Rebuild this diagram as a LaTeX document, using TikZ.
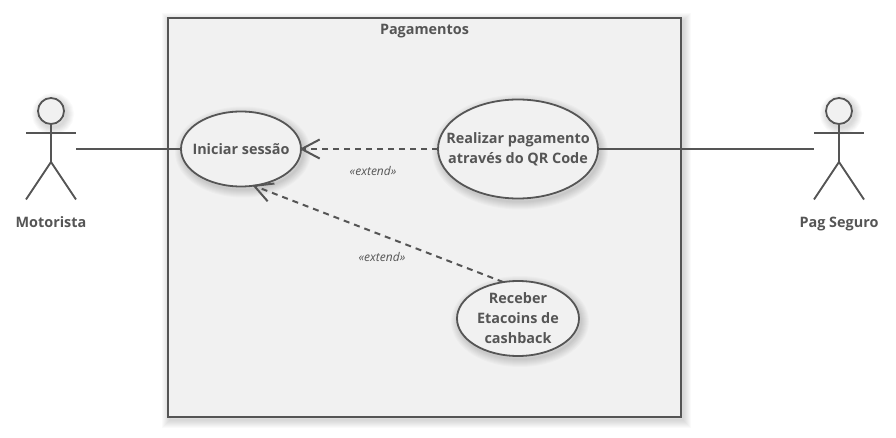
\documentclass[tikz,border=0pt]{standalone}
\usepackage{fontspec}
\setmainfont{Open Sans}
\usetikzlibrary{positioning,arrows.meta,shapes.geometric}
\definecolor{umlgray}{HTML}{555555}
\definecolor{umlfill}{HTML}{F1F1F1}

\begin{document}
\begin{tikzpicture}[
    x=1pt, y=-1pt,
    shadowlayer/.style={preaction={draw=black, draw opacity=.02, line width=#1,
      transform canvas={shift={(2pt,-3pt)}}}},
    softshadow/.style={shadowlayer=16pt, shadowlayer=14pt, shadowlayer=12pt, shadowlayer=10pt,
      shadowlayer=8pt, shadowlayer=6pt, shadowlayer=4pt, shadowlayer=2pt},
    frame/.style={ draw=umlgray,
      line width=2.2pt,
      fill=umlfill,
      softshadow,
      inner sep=0pt},
    usecase/.style={ ellipse,
      draw=umlgray,
      line width=1.8pt,
      fill=umlfill,
      softshadow,
      inner sep=0pt,
      outer sep=0pt},
    ucname/.style={ text=umlgray,
      font=\fontsize{14.4pt}{20pt}\selectfont\bfseries,
      align=center,
      inner sep=0pt},
    actorbox/.style={ minimum width=50pt,
      minimum height=101pt,
      inner sep=0pt,
      outer sep=0pt},
    head/.style={ circle,
      draw=umlgray,
      line width=1.8pt,
      fill=umlfill,
      softshadow,
      minimum size=26pt,
      inner sep=0pt},
    stick/.style={ draw=umlgray, line width=1.9pt},
    assoc/.style={ draw=umlgray, line width=2pt},
    extendline/.style={ draw=umlgray,
      line width=2pt,
      dash pattern=on 6pt off 5pt,
      shorten >=-1.5pt,
      -{Straight Barb[length=18pt,width=19pt,line width=2pt]}},
    stereo/.style={ text=umlgray,
      font=\fontsize{12pt}{14pt}\selectfont\itshape,
      inner sep=0pt}]
    \useasboundingbox (0,0) rectangle (896,438);

    \node[frame, minimum width=513pt, minimum height=399pt] (pagamentos) at (424.5,217.5) {};
    \node[ucname, below=7pt of pagamentos.north] (titulo) {Pagamentos};

    \node[usecase, minimum width=120pt, minimum height=75pt,
      label={[ucname]center:Iniciar sessão}] (iniciar) at (241,149) {};
    \node[usecase, minimum width=160pt, minimum height=99pt,
      label={[ucname]center:Realizar pagamento\\através do QR Code}] (realizar) at (518,149) {};
    \node[usecase, minimum width=122pt, minimum height=75pt,
      label={[ucname]center:Receber\\Etacoins de\\cashback}] (receber) at (518,318.5) {};

    \node[actorbox] (motorista) at (51,149) {};
    \node[actorbox] (pagseguro) at (839,149) {};
    \node[ucname, below=17pt of motorista] (motoristaname) {Motorista};
    \node[ucname, below=17pt of pagseguro] (pagseguroname) {Pag Seguro};

    % the two stick figures
    \foreach \who in {motorista,pagseguro} {
      \node[head] (\who head) at ([yshift=38pt]\who.center) {};
      \draw[stick] (\who head.south) -- ([yshift=-13pt]\who.center) coordinate (\who hip);
      \draw[stick] ([yshift=16.3pt]\who.west) -- ([yshift=16.3pt]\who.east);
      \draw[stick] (\who.south west) -- (\who hip) -- (\who.south east);
    }

    \draw[assoc] (motorista.east) -- (iniciar.west);
    \draw[assoc] (realizar.east) -- (pagseguro.west);
    \draw[extendline] (realizar.west) -- node[stereo, pos=0.474, yshift=-22pt] (extendA) {«extend»} (iniciar.east);
    \draw[extendline] (receber.112) -- (iniciar.289.6);
    \node[stereo] (extendB) at (382,257) {«extend»};
\end{tikzpicture}
\end{document}
